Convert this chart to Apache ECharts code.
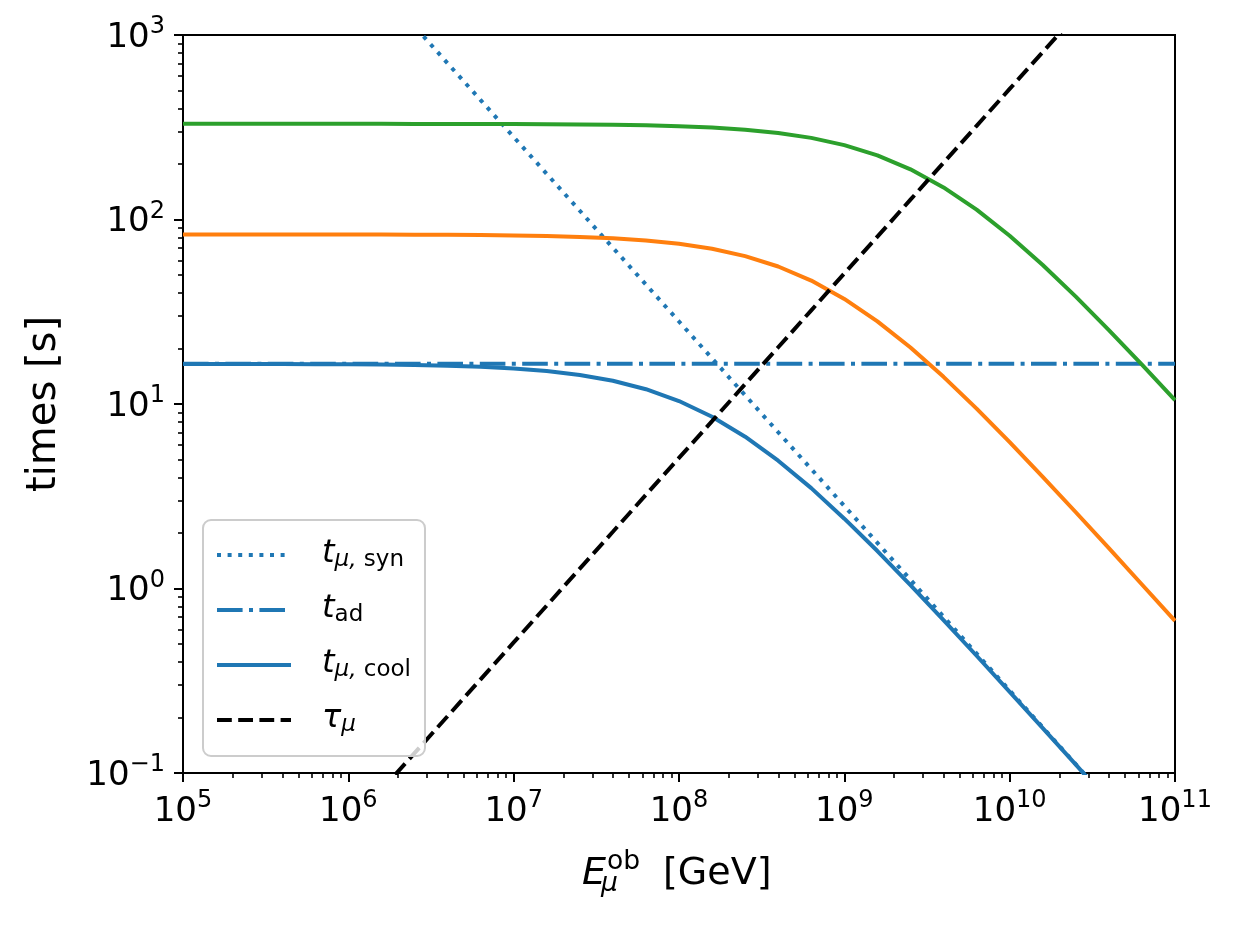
<!DOCTYPE html>
<html>
<head>
<meta charset="utf-8">
<style>
body {margin: 0; background: #fff;}
#div_echart {width: 1237px; height: 927px;}
</style>
<script src="https://cdn.jsdelivr.net/npm/echarts@6/dist/echarts.min.js"></script>
</head>
<body>
<div id="div_echart"></div>
<script>
// muon energy in the observer frame [GeV], sampled every 0.2 decade
const energy = [1e5, 1.585e5, 2.512e5, 3.981e5, 6.31e5, 1e6, 1.585e6, 2.512e6, 3.981e6, 6.31e6,
	1e7, 1.585e7, 2.512e7, 3.981e7, 6.31e7, 1e8, 1.585e8, 2.512e8, 3.981e8, 6.31e8,
	1e9, 1.585e9, 2.512e9, 3.981e9, 6.31e9, 1e10, 1.585e10, 2.512e10, 3.981e10, 6.31e10, 1e11]
// times [s]
const tSyn = [28000, 17670, 11150, 7030, 4440, 2800, 1767, 1115, 703, 444,
	280, 176.7, 111.5, 70.3, 44.4, 28.0, 17.67, 11.15, 7.03, 4.44,
	2.80, 1.767, 1.115, 0.703, 0.444, 0.280, 0.1767, 0.1115, 0.0703, 0.0444, 0.0280]
const adEnergy = [1e5, 1e11]
const tAd = [16.5, 16.5]
const tCoolBlue = [16.49, 16.48, 16.48, 16.46, 16.44, 16.40, 16.35, 16.26, 16.12, 15.91,
	15.58, 15.09, 14.37, 13.36, 12.03, 10.38, 8.53, 6.65, 4.93, 3.50,
	2.39, 1.596, 1.044, 0.674, 0.432, 0.275, 0.175, 0.111, 0.0700, 0.0443, 0.0280]
const tCoolOrange = [82.99, 82.98, 82.97, 82.96, 82.94, 82.90, 82.84, 82.74, 82.59, 82.36,
	81.99, 81.41, 80.50, 79.11, 77.00, 73.87, 69.41, 63.35, 55.64, 46.65,
	37.13, 28.06, 20.23, 14.03, 9.44, 6.22, 4.03, 2.59, 1.654, 1.051, 0.667]
const tCoolGreen = [330.0, 329.99, 329.98, 329.97, 329.95, 329.90, 329.84, 329.75, 329.60, 329.37,
	329.00, 328.42, 327.50, 326.05, 323.80, 320.30, 314.80, 306.60, 294.40, 276.90,
	253.00, 222.70, 187.10, 149.30, 113.10, 81.65, 56.70, 38.20, 25.17, 16.35, 10.50]
const tauMu = [0.0051, 0.00808, 0.01281, 0.0203, 0.0322, 0.051, 0.0808, 0.1281, 0.203, 0.322,
	0.51, 0.808, 1.281, 2.03, 3.22, 5.1, 8.08, 12.81, 20.3, 32.2,
	51, 80.8, 128.1, 203, 322, 510, 808, 1281, 2030, 3220, 5100]

// tick decades (exponents) and minor tick multipliers
const xDecades = [5, 6, 7, 8, 9, 10, 11]
const yDecades = [-1, 0, 1, 2, 3]
const minorMult = [2, 3, 4, 5, 6, 7, 8, 9]

const FONT = 'DejaVu Sans'
const BLUE = '#1f77b4', ORANGE = '#ff7f0e', GREEN = '#2ca02c'
const LW = 4

function minorTicks(decades) {
	let out = []
	for (let i = 0; i < decades.length - 1; i++)
		for (const m of minorMult) out.push(decades[i] + Math.log10(m))
	return out
}
function pow10Label(v) {
	let e = Math.round(Math.log10(v))
	return '{b|10}{s|' + String(e).replace('-', '\u2212') + '}'
}
const tickRich = {
	b: {fontFamily: FONT, fontSize: 34, lineHeight: 40, verticalAlign: 'bottom', color: '#000'},
	s: {fontFamily: FONT, fontSize: 24, lineHeight: 24, verticalAlign: 'top', color: '#000'}
}
const pairs = (xs, ys) => xs.map((x, i) => [x, ys[i]])

const legendText = {
	syn: '{t|t}{si|\u03bc,}{sr| syn}',
	ad: '{t|t}{sr|ad}',
	cool: '{t|t}{si|\u03bc,}{sr| cool}',
	tau: '{t|\u03c4}{si|\u03bc}'
}

let echart = echarts.init(document.getElementById('div_echart'), null, {renderer: 'canvas'})
echart.setOption({
	animation: false,
	backgroundColor: '#fff',
	grid: {left: 183, right: 62, top: 35, bottom: 154, containLabel: false, outerBoundsMode: 'none',
		show: true, borderColor: '#000', borderWidth: 2, backgroundColor: 'transparent'},
	xAxis: [{
		type: 'log', logBase: 10, min: 1e5, max: 1e11,
		splitLine: {show: false},
		axisLine: {onZero: false, lineStyle: {color: '#000', width: 2}},
		axisTick: {length: 9, lineStyle: {color: '#000', width: 2}},
		axisLabel: {margin: 16, formatter: pow10Label, rich: tickRich, showMinLabel: true, showMaxLabel: true}
	}, {
		type: 'value', min: 5, max: 11, position: 'bottom',
		splitLine: {show: false}, axisLine: {show: false, onZero: false}, axisLabel: {show: false},
		axisTick: {length: 5, customValues: minorTicks(xDecades), lineStyle: {color: '#000', width: 1.6}}
	}],
	yAxis: [{
		type: 'log', logBase: 10, min: 0.1, max: 1000,
		splitLine: {show: false},
		axisLine: {onZero: false, lineStyle: {color: '#000', width: 2}},
		axisTick: {length: 9, lineStyle: {color: '#000', width: 2}},
		axisLabel: {margin: 18, formatter: pow10Label, rich: tickRich, showMinLabel: true, showMaxLabel: true},
		name: 'times [s]', nameLocation: 'middle', nameGap: 118,
		nameTextStyle: {fontFamily: FONT, fontSize: 40, color: '#000'}
	}, {
		type: 'value', min: -1, max: 3, position: 'left',
		splitLine: {show: false}, axisLine: {show: false, onZero: false}, axisLabel: {show: false},
		axisTick: {length: 5, customValues: minorTicks(yDecades), lineStyle: {color: '#000', width: 1.6}}
	}],
	legend: {
		data: ['syn', 'ad', 'cool', 'tau'],
		orient: 'vertical', left: 203, top: 520,
		padding: [18, 14, 19, 12], itemGap: 21, itemWidth: 74, itemHeight: 14,
		backgroundColor: 'rgba(255,255,255,0.8)', borderColor: '#cccccc', borderWidth: 2, borderRadius: 8,
		itemStyle: {opacity: 0},
		lineStyle: {width: LW},
		formatter: name => legendText[name],
		textStyle: {
			fontFamily: FONT, color: '#000',
			rich: {
				t: {fontFamily: FONT, fontSize: 32, fontStyle: 'italic', lineHeight: 34, verticalAlign: 'top', padding: [0, 0, 0, 26], color: '#000'},
				si: {fontFamily: FONT, fontSize: 23, fontStyle: 'italic', lineHeight: 17, verticalAlign: 'bottom', color: '#000'},
				sr: {fontFamily: FONT, fontSize: 23, lineHeight: 17, verticalAlign: 'bottom', color: '#000'}
			}
		}
	},
	graphic: [
		{type: 'text', x: 582, y: 874, style: {text: 'E', fontFamily: FONT, fontSize: 38, fontStyle: 'italic', fill: '#000', textVerticalAlign: 'middle'}},
		{type: 'text', x: 607, y: 862, style: {text: 'ob', fontFamily: FONT, fontSize: 26.6, fill: '#000', textVerticalAlign: 'middle'}},
		{type: 'text', x: 601, y: 884, style: {text: '\u03bc', fontFamily: FONT, fontSize: 26.6, fontStyle: 'italic', fill: '#000', textVerticalAlign: 'middle'}},
		{type: 'text', x: 663, y: 874, style: {text: '[GeV]', fontFamily: FONT, fontSize: 38, fill: '#000', textVerticalAlign: 'middle'}}
	],
	series: [
		{name: 'syn', type: 'line', showSymbol: false, symbol: 'none', data: pairs(energy, tSyn),
			lineStyle: {color: BLUE, width: LW, type: [LW, 1.65 * LW]}, itemStyle: {color: BLUE}},
		{name: 'ad', type: 'line', showSymbol: false, symbol: 'none', data: pairs(adEnergy, tAd),
			lineStyle: {color: BLUE, width: LW, type: [6.4 * LW, 1.6 * LW, LW, 1.6 * LW]}, itemStyle: {color: BLUE}},
		{name: 'cool', type: 'line', showSymbol: false, symbol: 'none', data: pairs(energy, tCoolBlue),
			lineStyle: {color: BLUE, width: LW}, itemStyle: {color: BLUE}},
		{name: 'cool2', type: 'line', showSymbol: false, symbol: 'none', data: pairs(energy, tCoolOrange),
			lineStyle: {color: ORANGE, width: LW}, itemStyle: {color: ORANGE}},
		{name: 'cool3', type: 'line', showSymbol: false, symbol: 'none', data: pairs(energy, tCoolGreen),
			lineStyle: {color: GREEN, width: LW}, itemStyle: {color: GREEN}},
		{name: 'tau', type: 'line', showSymbol: false, symbol: 'none', data: pairs(energy, tauMu),
			lineStyle: {color: '#000', width: LW, type: [3.7 * LW, 1.6 * LW]}, itemStyle: {color: '#000'}}
	]
})
addEventListener('resize', echart.resize)
</script>
</body>
</html>
